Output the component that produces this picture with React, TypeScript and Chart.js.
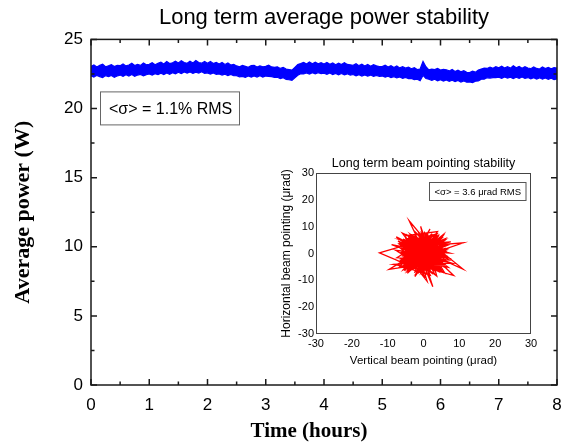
import React, { useEffect, useRef } from "react";
import { Chart, registerables } from "chart.js";

Chart.register(...registerables);

// ---------- Data ----------
const mainTitle = "Long term average power stability";
const mainXLabel = "Time (hours)";
const mainYLabel = "Average power (W)";
const mainNote = "<σ> = 1.1% RMS";

// power trace read as the upper and lower edge of the noisy band, every 0.05 h
const powerStepHours = 0.05;
const powerUpper = [
  23.05, 23.16, 23.00, 23.12, 23.20, 23.02, 23.09, 23.18, 23.04, 23.13,
  23.10, 23.22, 23.08, 23.15, 23.27, 23.11, 23.20, 23.12, 23.29, 23.16,
  23.20, 23.32, 23.17, 23.27, 23.36, 23.22, 23.40, 23.25, 23.31, 23.42,
  23.30, 23.45, 23.32, 23.27, 23.42, 23.30, 23.47, 23.33, 23.28, 23.40,
  23.28, 23.41, 23.25, 23.34, 23.22, 23.33, 23.19, 23.29, 23.15, 23.20,
  23.08, 23.02, 23.12, 23.05, 22.98, 23.10, 23.12, 23.00, 23.09, 23.01,
  23.05, 23.14, 23.01, 22.98, 23.02, 22.90, 22.97, 22.86, 22.82, 22.78,
  22.98, 23.18, 23.25, 23.34, 23.22, 23.36, 23.24, 23.35, 23.23, 23.31,
  23.22, 23.33, 23.20, 23.30, 23.17, 23.28, 23.18, 23.32, 23.19, 23.16,
  23.13, 23.24, 23.10, 23.20, 23.08, 23.19, 23.06, 23.17, 23.09, 23.04,
  23.03, 23.14, 23.00, 23.10, 22.96, 23.08, 22.94, 23.03, 22.92, 23.00,
  22.88, 22.95, 22.82, 22.86, 23.40, 23.02, 22.80, 22.85, 22.82, 22.90,
  22.78, 22.84, 22.80, 22.72, 22.82, 22.68, 22.78, 22.66, 22.74, 22.62,
  22.60, 22.70, 22.63, 22.78, 22.85, 22.92, 22.90, 23.00, 22.91, 23.03,
  22.94, 23.06, 22.93, 23.03, 22.92, 23.09, 22.95, 23.05, 22.91, 23.02,
  22.93, 22.88, 23.01, 22.90, 22.86, 23.00, 22.89, 22.98, 22.87, 22.96,
  22.92,
];
const powerLower = [
  22.36, 22.27, 22.40, 22.31, 22.24, 22.38, 22.30, 22.39, 22.26, 22.35,
  22.42, 22.32, 22.44, 22.35, 22.46, 22.33, 22.42, 22.47, 22.36, 22.44,
  22.50, 22.41, 22.52, 22.45, 22.55, 22.46, 22.57, 22.48, 22.59, 22.51,
  22.62, 22.52, 22.64, 22.56, 22.65, 22.54, 22.63, 22.57, 22.66, 22.55,
  22.58, 22.49, 22.57, 22.47, 22.50, 22.42, 22.49, 22.39, 22.46, 22.37,
  22.38, 22.29, 22.32, 22.25, 22.35, 22.27, 22.36, 22.28, 22.37, 22.27,
  22.35, 22.33, 22.31, 22.25, 22.26, 22.17, 22.23, 22.11, 22.08, 22.04,
  22.22, 22.40, 22.52, 22.50, 22.58, 22.49, 22.59, 22.51, 22.60, 22.52,
  22.56, 22.47, 22.57, 22.46, 22.54, 22.44, 22.53, 22.43, 22.51, 22.42,
  22.46, 22.37, 22.45, 22.35, 22.43, 22.34, 22.42, 22.32, 22.40, 22.33,
  22.35, 22.27, 22.34, 22.24, 22.31, 22.21, 22.28, 22.18, 22.25, 22.17,
  22.18, 22.09, 22.12, 22.02, 22.40, 22.17, 22.12, 22.03, 22.12, 22.01,
  22.08, 21.99, 22.07, 21.97, 22.05, 21.95, 22.03, 21.92, 22.00, 21.90,
  21.92, 21.88, 21.98, 21.99, 22.12, 22.12, 22.22, 22.20, 22.24, 22.23,
  22.26, 22.18, 22.28, 22.20, 22.27, 22.17, 22.26, 22.19, 22.28, 22.18,
  22.24, 22.15, 22.23, 22.13, 22.22, 22.12, 22.21, 22.11, 22.19, 22.09,
  22.14,
];
const timeTicks = [0, 1, 2, 3, 4, 5, 6, 7, 8];
const powerTicks = [0, 5, 10, 15, 20, 25];

const insetTitle = "Long term beam pointing stability";
const insetXLabel = "Vertical beam pointing (μrad)";
const insetYLabel = "Horizontal beam pointing (μrad)";
const insetNote = "<σ> = 3.6 μrad RMS";
const pointingTicks = [-30, -20, -10, 0, 10, 20, 30];

const pointingVertical = [
  0, 3.2, -2.5, 4.8, -5.1, 1.2, 2.9, -4.3, 5.6, -1.8,
  -12.3, -3.1, 4.1, -0.6, 6.3, -6.2, 2.2, -3.7, 1.5, -4.0,
  -1.2, 3.6, -5.8, 0.8, 4.4, -2.9, 6.8, -6.6, 2.7, -0.4,
  5.2, -4.8, 1.9, -2.2, 11.1, 3.3, -5.4, 0.2, 4.9, -3.6,
  7.2, -7.4, 1.1, -1.5, 5.7, -4.1, 2.4, -6.9, 3.8, -0.9,
  2.6, 0.5, -3.3, 6.1, -5.6, 1.7, -2.6, 4.6, -7.8, 3.1,
  -1.1, 5.4, -4.5, 0.9, 11.0, -0.3, -6.3, 2.1, -3.9, 6.6,
  -2.1, 3.9, -5.2, 1.4, -8.4, 4.2, -1.7, 7.6, -4.6, 0.4,
  2.8, -6.1, 5.1, -2.8, 1.8, -3.4, 4.7, -0.7, -7.1, 3.5,
  -9.6, 2.3, -1.4, 6.4, -4.2, 0.6, 5.9, -5.7, 2.5, -2.4,
  4.1, -3.2, 7.9, -6.7, 1.3, -0.8, 3.4, -4.4, 5.8, -1.9,
  8.4, 0.1, -5.3, 2.9, -3.5, 4.3, -7.6, 1.6, -2.3, 6.9,
  -4.7, 0.3, 3.7, -6.4, 4.5, -1.3, 2.0, -8.9, 5.3, -2.7,
  1.0, -4.9, 6.2, -0.5, 3.0, -5.9, 2.2, -3.0, 7.3, -1.6,
  4.0, -6.8, 0.7, 3.2, -2.0, 5.5, -4.3, 1.2, -0.2,
  -5.2, 4.3, -2.1, 1.6, 5.9, -6.1, 3.4, -0.8, -4.4, 5.1,
  -3.2, 2.7, -5.5, 4.6, 0.4, -1.9, 6.2, -4.7, 2.1, -2.6,
  3.9, -6.4, 0.9, -1.3, 5.4, -3.8, 1.8, -5.9, 4.8, -0.2,
  3.1, -4.1, 2.4, -2.9, 6.0, -5.1, 0.6, -1.7, 4.2, -6.5,
  2.9, -3.5, 5.6, -0.5, 1.2, -4.9, 3.7, -2.3, 6.4, -5.6,
  1.5, -0.9, 4.4, -3.0, 2.0, -6.0, 5.0, -1.4, -4.2, 3.6,
  0.1, -2.4, 5.7, -5.3, 2.6, -1.1, 4.0, -6.2, 0.8, -3.4,
  6.1, -4.6, 1.9, -2.0, 3.3, -5.0, 4.9, -0.6, 2.3, -3.9,
  5.3, -6.3, 1.1, -1.8, 4.5, -4.3, 0.2, -2.7, 3.8, -5.7,
  2.8, -0.3, 6.3, -5.4, 1.4, -3.1, 4.1, -1.6, -4.8, 5.2,
  0.5, -2.5, 3.5, -6.6, 2.2, -0.9, 4.7, -3.7, 1.7, -5.8,
  6.5, -2.2, 0.7, -4.0, 3.2, -1.0, 5.5, -5.2, 2.5, -3.3,
  4.3, -0.4, 1.3, -6.1, 3.0, -2.8, 5.8, -4.5, 0.0, 2.0,
  -1.5, 4.6, -5.5, 1.6, -3.6, 6.0, -0.7, -4.2, 3.7, -1.9,
  2.7, -6.0, 5.0, -2.6, 0.9, -5.0, 4.0, -0.1,
];
const pointingHorizontal = [
  0, -4.1, 5.3, 2.1, -3.4, 6.8, -6.2, 1.7, -1.3, -5.7,
  0.2, 3.9, 4.8, -7.2, 0.9, 2.5, -2.8, -6.1, 3.4, 12.2,
  4.2, -1.8, -0.9, 7.5, -4.9, -2.2, 3.1, 5.2, 1.1, -4.6,
  6.1, -5.3, -8.1, 2.6, 4.0, 0.4, 4.4, -2.9, -6.6, 7.1,
  -2.4, -1.6, 5.6, -6.8, 2.8, 0.8, -5.2, 3.6, 7.3, -1.4,
  -12.4, -3.6, 5.8, -4.2, -4.5, 2.2, 8.4, -0.7, 1.2, -7.6,
  3.1, 4.9, -7.4, 0.3, -5.8, 6.4, -2.7, -4.4, 2.9, 1.6,
  -3.3, 8.2, 6.6, -6.4, -4.1, -2.6, 1.8, 4.3, 3.2, -8.9,
  5.1, 0.1, -5.5, -1.1, 9.1, -5.1, 1.4, -2.4, 4.7, -3.2,
  -5.9, 3.7, 6.9, -1.2, -2.1, 4.6, -7.2, 2.1, 0.7, -8.6,
  6.7, 1.4, -3.6, -3.8, -1.6, 10.1, -5.8, 5.5, 3.5, -4.3,
  -8.2, 2.4, -6.4, 4.1, -0.3, -1.9, 6.2, -3.1, 4.8, -5.1,
  -1.8, 7.8, -8.4, 1.9, 2.6, -6.3, 0.5, 3.3, -3.9, 6.1,
  -10.3, -0.4, 5.6, -5.4, 2.3, 7.6, -6.9, 0.9, 0.2, 3.6,
  -4.7, -5.1, 5.9, -2.2, -7.3, 7.0, -3.5, 1.5, -0.6,
  2.1, -3.3, 6.2, -6.1, 1.8, -2.4, 5.3, -3.7, -5.6, 4.1,
  -0.6, 6.6, 4.9, -5.9, 1.3, -6.6, -0.8, 0.6, 3.8, -4.2,
  -1.5, 3.3, -5.1, 5.1, -3.9, 6.7, -2.2, -4.9, 2.7, -7.1,
  0.6, -2.9, 7.4, 1.2, -5.2, 5.8, -0.9, 3.5, -6.7, 0.2,
  4.6, -6.2, 0.1, 6.0, -4.4, -1.3, 2.3, -2.0, 3.4, -6.0,
  5.7, -5.5, -0.4, 4.0, -7.0, 1.5, 5.6, -1.8, 6.3, -4.8,
  2.9, -6.9, -2.2, -3.1, 1.6, 7.2, -5.4, 4.2, -2.5, 2.4,
  1.0, -4.4, 6.1, 0.2, -6.5, 3.0, -1.7, -4.9, 4.4, -0.8,
  3.0, -1.9, -6.0, 5.5, 0.9, -6.5, 0.8, 3.2, -3.6, 5.4,
  -1.1, 7.0, -3.1, -0.2, 3.1, -5.4, 5.0, -0.5, 4.6, -6.3,
  -1.9, 6.5, 1.9, -3.6, -4.7, 2.0, 4.5, -3.0, -6.8, 2.7,
  -1.6, -1.3, 5.2, 1.9, -2.9, -6.3, 2.5, -5.3, 6.9, 0.4,
  -4.2, -2.6, 4.0, 5.0, -5.7, -3.8, 4.8, -0.9, 6.4, -0.2,
  -7.4, 1.3, 3.7, -3.4, 5.9, -4.5, 0.6, -5.8, 3.6, 1.6,
  -5.0, -2.2, -0.3, 4.7, -4.0, 0.9, 6.2, -1.2,
];

// ---------- Helpers ----------
const SANS = "'Liberation Sans', Arial, sans-serif";
const SERIF = "'Liberation Serif', 'Times New Roman', serif";

function midpoints(arr: number[]) {
  const out: number[] = [];
  for (let i = 0; i < arr.length - 1; i++) out.push((arr[i] + arr[i + 1]) / 2);
  return out;
}

const mainFramePlugin = {
  id: "mainFrame",
  afterDraw(chart: any) {
    const { ctx, chartArea, scales } = chart;
    const { left, right, top, bottom } = chartArea;
    ctx.save();
    ctx.strokeStyle = "#1a1a1a";
    ctx.lineWidth = 1.5;
    const xs = scales.x;
    const ys = scales.y;
    const drawX = (vals: number[], len: number) => {
      vals.forEach((v) => {
        const p = xs.getPixelForValue(v);
        ctx.beginPath();
        ctx.moveTo(p, bottom);
        ctx.lineTo(p, bottom - len);
        ctx.moveTo(p, top);
        ctx.lineTo(p, top + len);
        ctx.stroke();
      });
    };
    const drawY = (vals: number[], len: number) => {
      vals.forEach((v) => {
        const p = ys.getPixelForValue(v);
        ctx.beginPath();
        ctx.moveTo(left, p);
        ctx.lineTo(left + len, p);
        ctx.moveTo(right, p);
        ctx.lineTo(right - len, p);
        ctx.stroke();
      });
    };
    drawX(timeTicks, 6);
    drawX(midpoints(timeTicks), 3.5);
    drawY(powerTicks, 6);
    drawY(midpoints(powerTicks), 3.5);
    ctx.strokeRect(left, top, right - left, bottom - top);

    // annotation box
    ctx.lineWidth = 1;
    ctx.strokeStyle = "#666";
    ctx.strokeRect(left + 9.5, top + 52.5, 139, 33);
    ctx.fillStyle = "#000";
    ctx.font = `16px ${SANS}`;
    ctx.textBaseline = "middle";
    ctx.textAlign = "left";
    ctx.fillText(mainNote, left + 18, top + 70);

    // x axis title
    ctx.font = `bold 21px ${SERIF}`;
    ctx.textAlign = "center";
    ctx.fillText(mainXLabel, 309, 432);
    ctx.restore();
  },
};

const insetFramePlugin = {
  id: "insetFrame",
  afterDraw(chart: any) {
    const { ctx, chartArea } = chart;
    const { left, right, top, bottom } = chartArea;
    ctx.save();
    ctx.strokeStyle = "#444";
    ctx.lineWidth = 1;
    ctx.strokeRect(left + 0.5, top + 0.5, right - left - 1, bottom - top - 1);
    // note box
    const bw = 96.5;
    const bx = right - 5 - bw;
    const by = top + 9.5;
    ctx.strokeStyle = "#555";
    ctx.strokeRect(bx, by, bw, 18);
    ctx.fillStyle = "#000";
    ctx.font = `9.5px ${SANS}`;
    ctx.textBaseline = "middle";
    ctx.textAlign = "left";
    ctx.fillText(insetNote, bx + 5, by + 9.5);
    ctx.restore();
  },
};

export default function App() {
  const mainRef = useRef<HTMLCanvasElement>(null);
  const insetRef = useRef<HTMLCanvasElement>(null);

  useEffect(() => {
    const lowerData = powerLower.map((v, i) => ({ x: i * powerStepHours, y: v }));
    const upperData = powerUpper.map((v, i) => ({ x: i * powerStepHours, y: v }));
    const main = new Chart(mainRef.current!, {
      type: "line",
      data: {
        datasets: [
          {
            data: lowerData,
            borderColor: "#0000ff",
            borderWidth: 1.2,
            pointRadius: 0,
            tension: 0,
            fill: false,
          },
          {
            data: upperData,
            borderColor: "#0000ff",
            backgroundColor: "#0000ff",
            borderWidth: 1.2,
            pointRadius: 0,
            tension: 0,
            fill: "-1",
          },
        ],
      },
      options: {
        responsive: false,
        animation: false,
        layout: { padding: { left: 0, right: 6, top: 0, bottom: 0 } },
        plugins: {
          legend: { display: false },
          tooltip: { enabled: false },
          filler: { propagate: false },
          title: {
            display: true,
            text: mainTitle,
            fullSize: false,
            color: "#000",
            font: { family: SANS, size: 22, weight: "normal" },
            padding: { top: 5, bottom: 8 },
          },
        },
        scales: {
          x: {
            type: "linear",
            min: 0,
            max: 8,
            grid: { display: false, drawTicks: false },
            border: { display: false },
            afterBuildTicks: (s: any) => {
              s.ticks = timeTicks.map((v) => ({ value: v }));
            },
            ticks: {
              color: "#000",
              font: { family: SANS, size: 17 },
              padding: 10,
              maxRotation: 0,
              autoSkip: false,
            },
            afterFit: (s: any) => {
              s.height = 60;
              s.paddingRight = 0;
              s.paddingLeft = 0;
            },
          },
          y: {
            type: "linear",
            min: 0,
            max: 25,
            grid: { display: false, drawTicks: false },
            border: { display: false },
            afterBuildTicks: (s: any) => {
              s.ticks = powerTicks.map((v) => ({ value: v }));
            },
            ticks: {
              color: "#000",
              font: { family: SANS, size: 17 },
              padding: 8,
            },
            title: {
              display: true,
              text: mainYLabel,
              color: "#000",
              font: { family: SERIF, size: 22, weight: "bold" },
              padding: { top: 10, bottom: 0 },
            },
            afterFit: (s: any) => {
              s.width = 91;
            },
          },
        },
      } as any,
      plugins: [mainFramePlugin],
    });

    const insetData = pointingVertical.map((v, i) => ({ x: v, y: pointingHorizontal[i] }));
    const inset = new Chart(insetRef.current!, {
      type: "line",
      data: {
        datasets: [
          {
            data: insetData,
            borderColor: "#ff0000",
            borderWidth: 1.3,
            pointRadius: 0,
            tension: 0,
          },
        ],
      },
      options: {
        responsive: false,
        animation: false,
        layout: { padding: { left: 0, right: 14, top: 0, bottom: 0 } },
        plugins: {
          legend: { display: false },
          tooltip: { enabled: false },
          title: {
            display: true,
            text: insetTitle,
            fullSize: false,
            color: "#000",
            font: { family: SANS, size: 12.5, weight: "normal" },
            padding: { top: 6.5, bottom: 1.5 },
          },
        },
        scales: {
          x: {
            type: "linear",
            min: -30,
            max: 30,
            grid: { display: false, drawTicks: false },
            border: { display: false },
            afterBuildTicks: (s: any) => {
              s.ticks = pointingTicks.map((v) => ({ value: v }));
            },
            ticks: {
              color: "#000",
              font: { family: SANS, size: 11 },
              padding: 3,
              maxRotation: 0,
              autoSkip: false,
            },
            title: {
              display: true,
              text: insetXLabel,
              color: "#000",
              font: { family: SANS, size: 11.5 },
              padding: { top: 0, bottom: 4 },
            },
            afterFit: (s: any) => {
              s.height = 38;
            },
          },
          y: {
            type: "linear",
            min: -30,
            max: 30,
            grid: { display: false, drawTicks: false },
            border: { display: false },
            afterBuildTicks: (s: any) => {
              s.ticks = pointingTicks.map((v) => ({ value: v }));
            },
            ticks: {
              color: "#000",
              font: { family: SANS, size: 11 },
              padding: 2,
              autoSkip: false,
            },
            title: {
              display: true,
              text: insetYLabel,
              color: "#000",
              font: { family: SANS, size: 12 },
              padding: { top: 9, bottom: 0 },
            },
            afterFit: (s: any) => {
              s.width = 46;
            },
          },
        },
      } as any,
      plugins: [insetFramePlugin],
    });

    return () => {
      main.destroy();
      inset.destroy();
    };
  }, []);

  return (
    <div
      style={{
        position: "fixed",
        left: 0,
        top: 0,
        width: 563,
        height: 445,
        background: "#fff",
      }}
    >
      <canvas
        ref={mainRef}
        width={563}
        height={445}
        style={{ position: "absolute", left: 0, top: 0, width: 563, height: 445 }}
      />
      <canvas
        ref={insetRef}
        width={275}
        height={222}
        style={{ position: "absolute", left: 270, top: 150, width: 275, height: 222 }}
      />
    </div>
  );
}
